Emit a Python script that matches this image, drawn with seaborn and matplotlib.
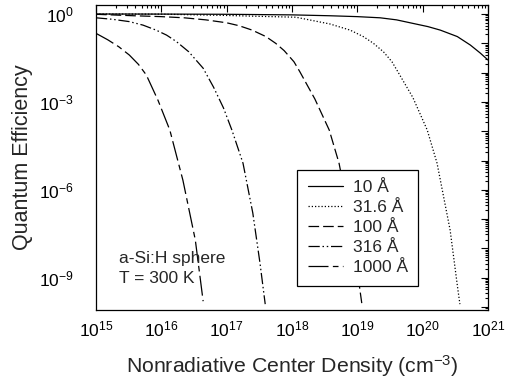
import numpy as np
import pandas as pd
import matplotlib
matplotlib.use("Agg")
import matplotlib.pyplot as plt
from matplotlib.ticker import FixedLocator, FuncFormatter, LogLocator, NullFormatter
import seaborn as sns

# ---- data (log10 of density in cm^-3, log10 of quantum efficiency) ----
sizes = ["10 Å", "31.6 Å", "100 Å", "316 Å", "1000 Å"]

logx_10 = [15.0, 16.0, 17.0, 18.0, 18.58, 19.0, 19.35, 19.6, 19.85, 20.08, 20.27, 20.53, 20.73, 20.88, 21.0]
logy_10 = [0.0, -0.003, -0.01, -0.03, -0.06, -0.09, -0.13, -0.2, -0.32, -0.43, -0.55, -0.77, -1.06, -1.33, -1.57]

logx_31 = [15.0, 16.0, 17.0, 17.5, 18.06, 18.58, 18.89, 19.09, 19.24, 19.40, 19.53, 19.62, 19.85, 20.07, 20.22, 20.42, 20.54, 20.57]
logy_31 = [0.0, -0.005, -0.05, -0.08, -0.11, -0.34, -0.55, -0.77, -0.99, -1.29, -1.63, -1.97, -2.85, -3.96, -5.09, -7.37, -9.42, -9.9]

logx_100 = [15.0, 15.58, 16.0, 16.35, 16.68, 17.0, 17.19, 17.39, 17.6, 17.75, 17.88, 18.03, 18.12, 18.35, 18.57, 18.72, 18.92, 19.04, 19.07]
logy_100 = [-0.01, -0.06, -0.09, -0.13, -0.2, -0.3, -0.40, -0.55, -0.77, -1.0, -1.25, -1.63, -1.97, -2.9, -3.96, -5.09, -7.37, -9.42, -9.9]

logx_316 = [15.0, 15.25, 15.51, 15.72, 15.92, 16.08, 16.23, 16.42, 16.64, 16.80, 16.95, 17.08, 17.25, 17.40, 17.51, 17.59]
logy_316 = [-0.13, -0.18, -0.26, -0.38, -0.55, -0.72, -0.94, -1.29, -1.85, -2.5, -3.2, -3.96, -5.09, -6.79, -8.5, -9.9]

logx_1000 = [15.0, 15.18, 15.35, 15.51, 15.65, 15.77, 15.95, 16.13, 16.33, 16.52, 16.64]
logy_1000 = [-0.66, -0.88, -1.12, -1.40, -1.72, -2.08, -2.95, -3.96, -5.67, -7.71, -9.8]

x_ticks_exp = [15, 16, 17, 18, 19, 20, 21]
y_ticks_exp = list(range(-10, 1))
y_label_exp = [0, -3, -6, -9]

series = [(logx_10, logy_10), (logx_31, logy_31), (logx_100, logy_100),
          (logx_316, logy_316), (logx_1000, logy_1000)]

styles = ["-", (0, (1.0, 1.6)), (0, (8.5, 3.2)), (0, (9, 2.2, 1.2, 2.2, 1.2, 2.2)), (0, (16, 3.5, 4.5, 3.5))]

sns.set_style("white")
plt.rcParams["font.family"] = ["Liberation Sans", "DejaVu Sans"]
plt.rcParams["mathtext.fontset"] = "custom"
plt.rcParams["mathtext.rm"] = "Liberation Sans"
plt.rcParams["mathtext.it"] = "Liberation Sans:italic"
plt.rcParams["mathtext.bf"] = "Liberation Sans:bold"

fig = plt.figure(figsize=(5.12, 3.86), dpi=100)
ax = fig.add_axes([96 / 512, 1 - 310 / 386, 392 / 512, 305 / 386])
ax.set_xscale("log")
ax.set_yscale("log")

for name, (lx, ly), ls in zip(sizes, series, styles):
    df = pd.DataFrame({"density": 10.0 ** np.array(lx), "qe": 10.0 ** np.array(ly)})
    sns.lineplot(data=df, x="density", y="qe", ax=ax, color="black", linewidth=0.9,
                 linestyle=ls, label=name, estimator=None, legend=False)

ax.set_xlim(1e15, 1e21)
ax.set_ylim(10.0 ** -10.1, 10.0 ** 0.307)

ax.xaxis.set_major_locator(FixedLocator([10.0 ** k for k in x_ticks_exp]))
ax.xaxis.set_major_formatter(FuncFormatter(lambda v, p: r"$10^{%d}$" % int(round(np.log10(v)))))
ax.xaxis.set_minor_locator(LogLocator(base=10, subs=np.arange(2, 10), numticks=100))
ax.xaxis.set_minor_formatter(NullFormatter())

def yfmt(v, p):
    e = int(round(np.log10(v)))
    return r"$10^{%d}$" % e if e in y_label_exp else ""

ax.yaxis.set_major_locator(FixedLocator([10.0 ** k for k in y_ticks_exp]))
ax.yaxis.set_major_formatter(FuncFormatter(yfmt))
ax.yaxis.set_minor_locator(LogLocator(base=10, subs=np.arange(2, 10), numticks=100))
ax.yaxis.set_minor_formatter(NullFormatter())

ax.tick_params(which="both", direction="in", top=True, right=True, colors="black", width=0.8)
ax.tick_params(which="major", length=5, labelsize=12.5)
ax.tick_params(which="minor", length=2.5)
ax.tick_params(axis="y", which="major", pad=16)
ax.tick_params(axis="x", which="major", pad=7)

for s in ax.spines.values():
    s.set_color("black")
    s.set_linewidth(0.9)

ax.set_xlabel("Nonradiative Center Density (cm$^{-3}$)", fontsize=15.3, labelpad=10)
ax.set_ylabel("Quantum Efficiency", fontsize=15.5, labelpad=4)

leg = ax.legend(loc="lower left", bbox_to_anchor=(0.513, 0.079), borderaxespad=0,
                fontsize=12.5, frameon=True, fancybox=False, edgecolor="black",
                handlelength=2.05, handletextpad=0.55, labelspacing=0.28, borderpad=0.6)
leg.get_frame().set_linewidth(0.9)
leg.get_frame().set_alpha(1)

ax.text(0.059, 0.08, "a-Si:H sphere\nT = 300 K", transform=ax.transAxes,
        fontsize=12.5, va="bottom", ha="left", linespacing=1.35)

fig.savefig("out.png", dpi=100)
